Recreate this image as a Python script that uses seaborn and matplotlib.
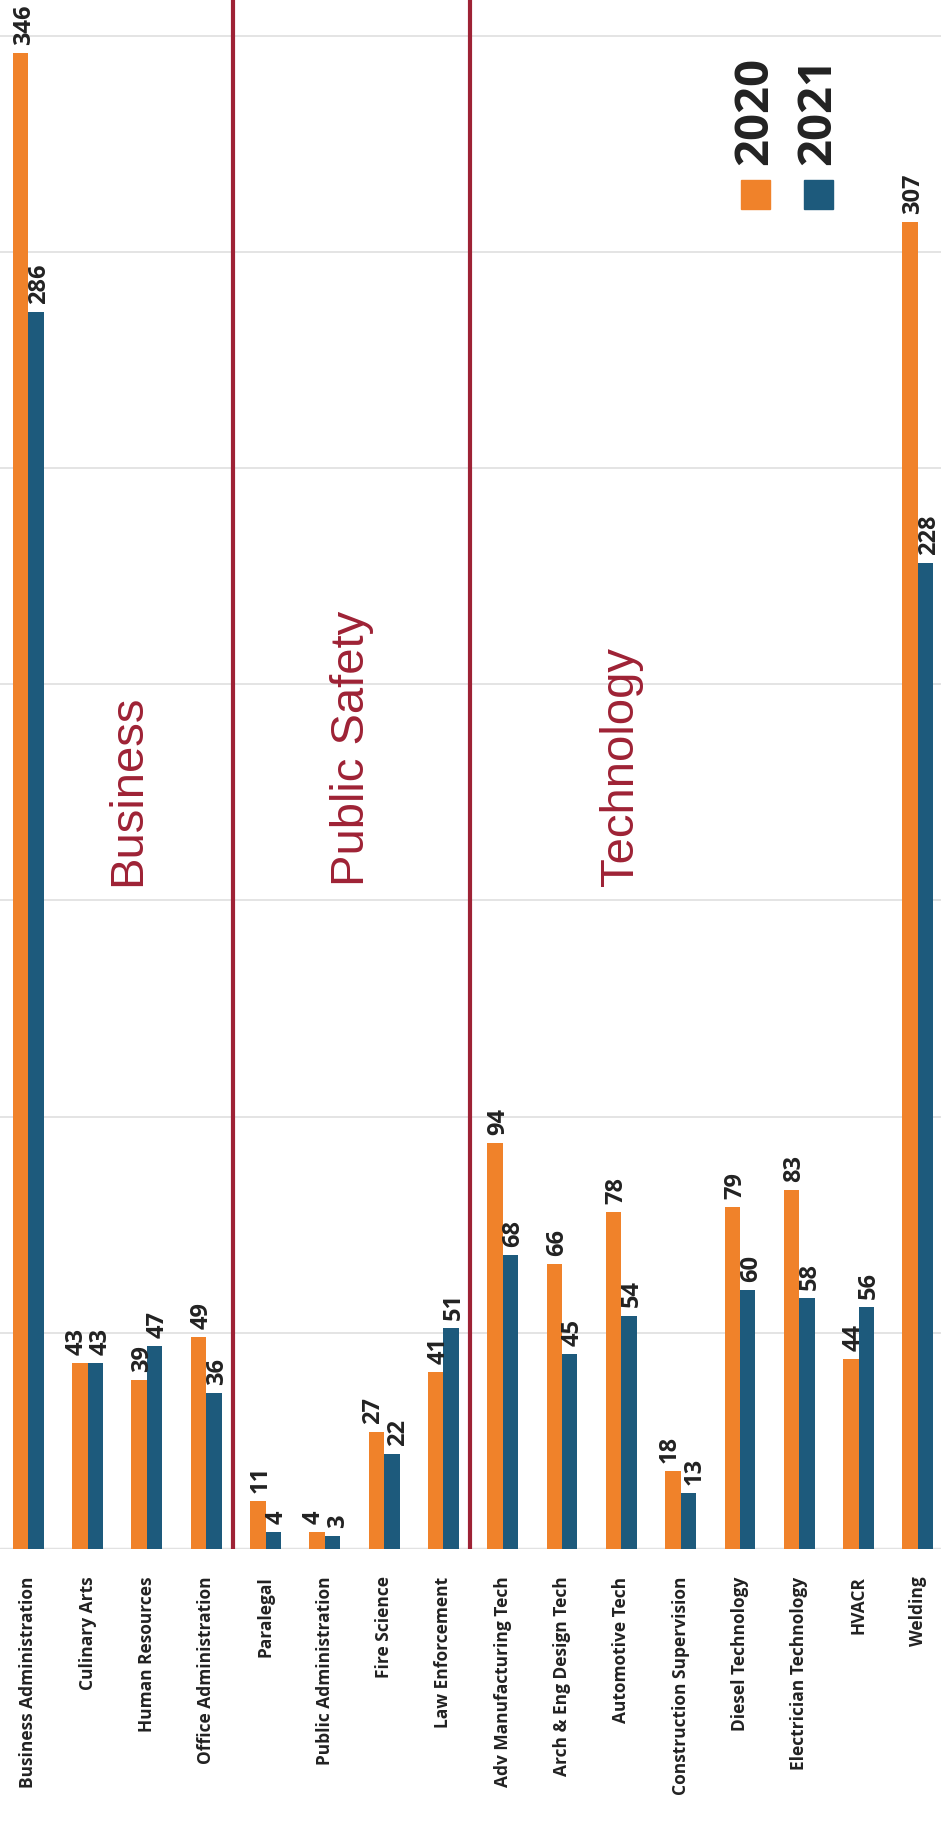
import pandas as pd
import numpy as np
import matplotlib.pyplot as plt
import seaborn as sns
from matplotlib.patches import Rectangle

programs = ["Business Administration", "Culinary Arts", "Human Resources",
            "Office Administration", "Paralegal", "Public Administration",
            "Fire Science", "Law Enforcement", "Adv Manufacturing Tech",
            "Arch & Eng Design Tech", "Automotive Tech", "Construction Supervision",
            "Diesel Technology", "Electrician Technology", "HVACR", "Welding"]
values_2020 = [346, 43, 39, 49, 11, 4, 27, 41, 94, 66, 78, 18, 79, 83, 44, 307]
values_2021 = [286, 43, 47, 36, 4, 3, 22, 51, 68, 45, 54, 13, 60, 58, 56, 228]
years = ["2020", "2021"]
colors = ["#f0822a", "#1d5a7c"]

sections = ["Business", "Public Safety", "Technology"]
section_x = [1.68, 5.46, 10.0]
dividers = [3.45, 7.45]

df = pd.DataFrame({
    "program": programs * 2,
    "year": ["2020"] * len(programs) + ["2021"] * len(programs),
    "count": values_2020 + values_2021,
})

sns.set_theme(style="white")
plt.rcParams['font.family'] = ['Open Sans', 'DejaVu Sans']

fig = plt.figure(figsize=(9.41, 18.24), dpi=100)
ax = fig.add_axes([0, 1 - 1550 / 1824, 1, 1550 / 1824])

sns.barplot(data=df, x="program", y="count", hue="year", palette=colors,
            width=0.52, saturation=1, linewidth=0, ax=ax, legend=False)

ax.set_ylim(0, 358.5)
ax.set_xlim(-0.477, 15.39)
ax.set_yticks(np.arange(50, 351, 50))
ax.yaxis.grid(True, color="#e2e2e2", lw=1.3)
ax.set_axisbelow(True)
ax.axhline(0, color="#e2e2e2", lw=2.5, zorder=0)
for s in ax.spines.values():
    s.set_visible(False)
ax.set_yticklabels([])
ax.set_xlabel("")
ax.set_ylabel("")
ax.tick_params(axis="x", length=0, pad=19)
ax.set_xticks(range(len(programs)))
ax.set_xticklabels(programs, rotation=90, fontsize=12.5, fontweight="bold",
                   color="#222222", va="top", ha="center")

# value labels above the bars, rotated to read bottom-up
pad_pt = 6.5
unit_px = 1550 / 358.5          # pixels per count
label_sets = []
for cont in ax.containers:
    labels = ax.bar_label(cont, padding=pad_pt, fontsize=17,
                          fontweight="bold", color="#222222")
    for t in labels:
        t.set_rotation(90)
        t.set_rotation_mode("anchor")
        t.set_ha("left")
        t.set_va("center_baseline")
    label_sets.append(labels)


def label_span(v):
    lo = v * unit_px + 9
    return lo, lo + len(str(v)) * 13.3


# nudge side-by-side labels apart when they would collide
for i, (a, b) in enumerate(zip(values_2020, values_2021)):
    lo_a, hi_a = label_span(a)
    lo_b, hi_b = label_span(b)
    if lo_a < hi_b and lo_b < hi_a:
        label_sets[0][i].xyann = (-4.5, pad_pt)
        label_sets[1][i].xyann = (2.0, pad_pt)

for d in dividers:
    ax.axvline(d, color="#9e2235", lw=3)

for name, xs in zip(sections, section_x):
    ax.text(xs, 153.6, name, rotation=90, ha="center", va="bottom",
            fontsize=34, color="#9e2235", family="Liberation Sans")

# legend drawn by hand since it is rotated
for yr, col, cx in zip(years, colors, [755, 818]):
    fig.text(cx / 941, 1 - 165 / 1824, yr, rotation=90, ha="center",
             va="bottom", fontsize=34, fontweight="bold", color="#222222")
    fig.patches.append(Rectangle(((cx - 14) / 941, 1 - 210 / 1824), 29 / 941,
                                 29 / 1824, transform=fig.transFigure,
                                 color=col, figure=fig))

fig.savefig("out.png", dpi=100)
